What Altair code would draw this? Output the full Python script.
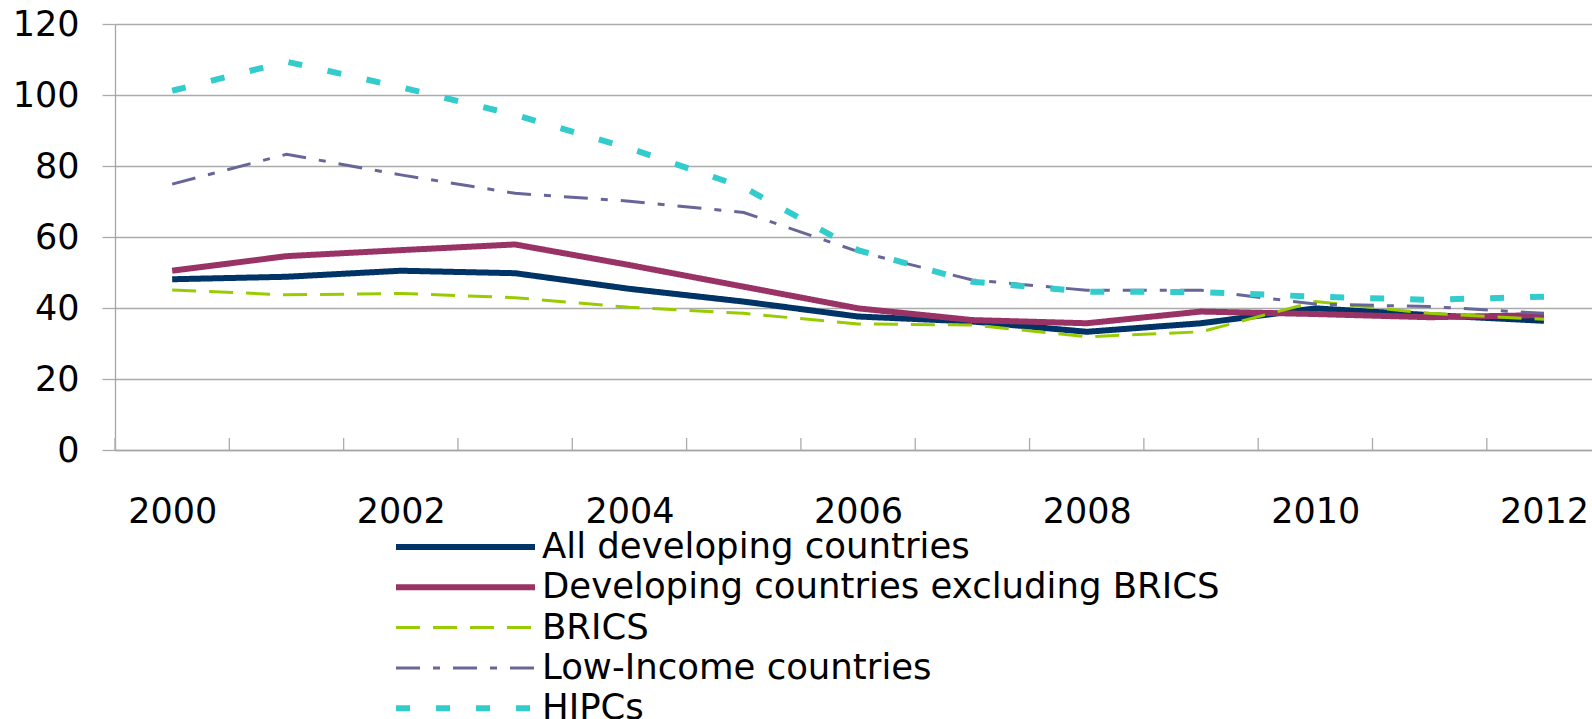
import altair as alt
import pandas as pd

years = list(range(2000, 2013))
series_names = [
    "All developing countries",
    "Developing countries excluding BRICS",
    "BRICS",
    "Low-Income countries",
    "HIPCs",
]
all_dev = [48.1, 48.8, 50.5, 49.8, 45.4, 41.8, 37.6, 36.2, 33.3, 35.7, 39.9, 38.0, 36.4]
excl_brics = [50.5, 54.6, 56.3, 57.9, 52.1, 46.0, 39.9, 36.6, 35.7, 39.0, 38.3, 37.4, 38.0]
brics = [45.1, 43.7, 44.1, 42.9, 40.2, 38.5, 35.5, 35.2, 31.9, 33.3, 41.8, 38.5, 36.8]
low_income = [74.9, 83.3, 77.5, 72.3, 70.1, 66.9, 55.9, 47.9, 45.0, 45.0, 41.1, 40.4, 38.5]
hipcs = [101.2, 109.4, 102.2, 94.4, 85.0, 74.0, 56.3, 47.4, 44.6, 44.5, 43.2, 42.3, 43.2]

colors = ["#003366", "#993366", "#99CC00", "#666699", "#33CCCC"]
dashes = [[1, 0], [1, 0], [24, 13], [24, 13, 7, 13], [14, 26]]
widths = [6, 6, 3, 3, 6]

y_ticks = [0, 20, 40, 60, 80, 100, 120]
x_labels = [2000, 2002, 2004, 2006, 2008, 2010, 2012]

rows = []
for name, vals in zip(series_names, [all_dev, excl_brics, brics, low_income, hipcs]):
    for yr, v in zip(years, vals):
        rows.append({"year": yr, "value": v, "series": name})
df = pd.DataFrame(rows)
ticks_df = pd.DataFrame({"year": years})

FONT = "DejaVu Sans"
PW, PH = 1477, 426
xscale = alt.Scale(domain=[1999.5, 2012.42], nice=False, zero=False)

lines = alt.Chart(df).mark_line(strokeCap="butt").encode(
    x=alt.X("year:Q", scale=xscale,
            axis=alt.Axis(values=x_labels, format="d", title=None, ticks=False, tickSize=0,
                          grid=False, labelPadding=44, labelFontSize=35, labelFont=FONT,
                          labelColor="black", domainColor="#A6A6A6", domainWidth=1.3,
                          labelFlush=False, labelOverlap=False, labelBound=False)),
    y=alt.Y("value:Q", scale=alt.Scale(domain=[0, 120], nice=False),
            axis=alt.Axis(values=y_ticks, title=None, tickSize=13, labelPadding=23,
                          labelFontSize=35, labelFont=FONT, labelColor="black",
                          gridColor="#ABABAB", gridWidth=1.3, tickColor="#ABABAB",
                          tickWidth=1.3, domainColor="#A6A6A6", domainWidth=1.3,
                          labelOverlap=False)),
    color=alt.Color("series:N", scale=alt.Scale(domain=series_names, range=colors),
                    legend=alt.Legend(title=None)),
    strokeDash=alt.StrokeDash("series:N", scale=alt.Scale(domain=series_names, range=dashes),
                              legend=alt.Legend(title=None)),
    strokeWidth=alt.StrokeWidth("series:N",
                                scale=alt.Scale(type="ordinal", domain=series_names, range=widths),
                                legend=alt.Legend(title=None)),
    detail="series:N",
)

tick_marks = alt.Chart(ticks_df).transform_calculate(
    boundary="datum.year - 0.5"
).mark_rule(color="#ABABAB", strokeWidth=1.3).encode(
    x=alt.X("boundary:Q", scale=xscale),
    y=alt.value(PH - 12),
    y2=alt.value(PH),
)

chart = alt.layer(lines, tick_marks).properties(
    width=PW, height=PH,
    autosize=alt.AutoSizeParams(type="none"),
    padding={"left": 115, "top": 24, "right": 0, "bottom": 269},
    background="white",
).configure_view(stroke=None).configure_legend(
    orient="none", legendX=278, legendY=506, direction="vertical",
    symbolType="stroke", symbolSize=19321, clipHeight=34,
    labelFont=FONT, labelFontSize=35.5, labelColor="black", labelLimit=2000,
    labelOffset=4, rowPadding=4.3, padding=0, symbolOffset=0,
)

chart.save("out.html", embed_options={"renderer": "svg", "actions": False})
